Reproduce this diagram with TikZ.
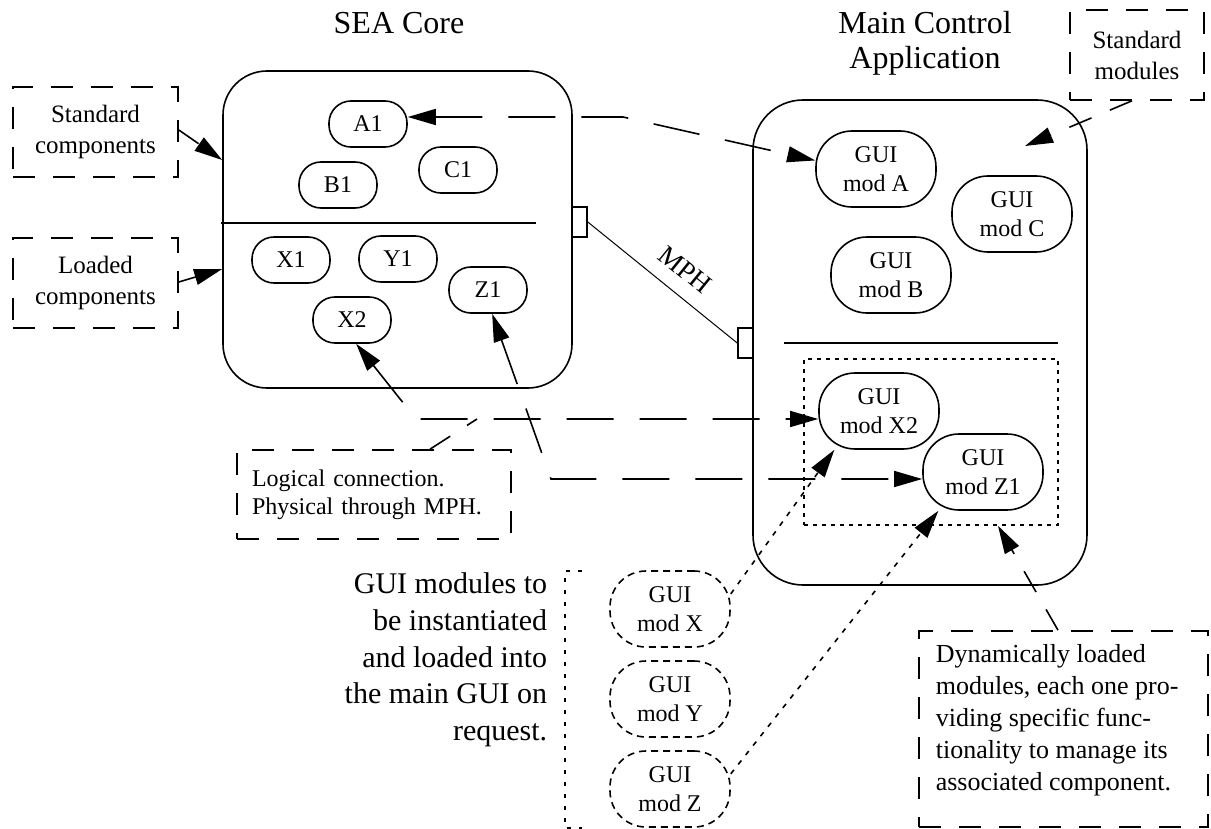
\documentclass[tikz,border=0pt]{standalone}
\usepackage{fontspec}
\setmainfont{Liberation Serif}
\usetikzlibrary{arrows.meta,positioning,calc}

\begin{document}
\begin{tikzpicture}[x=0.5pt,y=-0.5pt,
line width=0.8pt,
>={Triangle[length=14pt,width=8pt]},
bigbox/.style={draw,rounded corners=22pt},
comp/.style={draw,rounded corners=11pt,minimum width=39pt,minimum height=23pt,font=\fontsize{12}{14.5}\selectfont},
gui/.style={draw,rounded corners=18pt,minimum width=60pt,minimum height=38pt,align=center,font=\fontsize{12}{14.5}\selectfont},
newgui/.style={gui,dash pattern=on 3.5pt off 2.5pt},
note/.style={draw,dash pattern=on 11pt off 9pt,align=center,font=\fontsize{12.5}{15.5}\selectfont},
port/.style={draw,minimum width=7.5pt,minimum height=15pt,inner sep=0pt},
link/.style={dash pattern=on 23.5pt off 13pt},
pointer/.style={dash pattern=on 12pt off 10pt},
dotlink/.style={dash pattern=on 2.5pt off 3.5pt},
title/.style={align=center,font=\fontsize{16}{17.5}\selectfont}]
\useasboundingbox (0,0) rectangle (1211,829);

\node[title] (seatitle) at (399,23) {SEA Core};
\node[title] (mcatitle) at (925,43) {Main Control\\Application};

\node[bigbox,minimum width=174.5pt,minimum height=158.5pt] (sea) at (397.5,229.5) {};
\node[bigbox,rounded corners=25pt,minimum width=167pt,minimum height=242.5pt] (mca) at (920,342.5) {};
\node[port] (seaport) at (579.5,222) {};
\node[port] (mcaport) at (745.5,343) {};
\draw (221,223) -- (536,223);
\draw (784,343) -- (1058,343);

\node[comp] (a1) at (368,124) {A1};
\node[comp] (b1) at (338,185) {B1};
\node[comp] (c1) at (458,170) {C1};
\node[comp] (x1) at (291,260) {X1};
\node[comp] (y1) at (398,259) {Y1};
\node[comp] (z1) at (488,290) {Z1};
\node[comp] (x2) at (352,320) {X2};

\node[gui] (guia) at (876,169) {GUI\\mod A};
\node[gui] (guib) at (891,275) {GUI\\mod B};
\node[gui] (guic) at (1012,214) {GUI\\mod C};
\node[gui] (guix2) at (879,411) {GUI\\mod X2};
\node[gui] (guiz1) at (983,472) {GUI\\mod Z1};
\node[draw,dash pattern=on 2pt off 2.5pt,minimum width=127pt,minimum height=83pt] (dynset) at (931,442) {};

\node[newgui] (modx) at (670,609) {GUI\\mod X};
\node[newgui] (mody) at (670,699) {GUI\\mod Y};
\node[newgui] (modz) at (670,789) {GUI\\mod Z};
\draw[dash pattern=on 2pt off 4pt] (582,571) -- (565,571) -- (565,828) -- (582,828);
\node[anchor=north east,align=right,inner sep=0pt,font=\fontsize{15}{18.35}\selectfont] (loadtext) at (548,572) {GUI modules to\\be instantiated\\and loaded into\\the main GUI on\\request.};

\node[note,minimum width=82.5pt,minimum height=45pt] (stdcomp) at (95.5,132) {Standard\\components};
\node[note,minimum width=82.5pt,minimum height=45pt] (loadcomp) at (95.5,283) {Loaded\\components};
\node[note,minimum width=67pt,minimum height=45pt] (stdmod) at (1137,55) {Standard\\modules};
\node[note,align=left,text width=122pt,inner xsep=7.5pt,minimum height=44.5pt,font=\fontsize{12}{14}\selectfont] (logic) at (374,494.5) {Logical connection.\\Physical through MPH.};
\node[note,minimum width=144.5pt,minimum height=98pt] (dynnote) at (1063.5,729) {};
\node[anchor=north west,align=left,inner sep=0pt,font=\fontsize{13}{16}\selectfont] (dyntext) at (935,644) {Dynamically loaded\\modules, each one pro-\\viding specific func-\\tionality to manage its\\associated component.};

\coordinate (bend1) at (623,117);
\coordinate (bend2) at (416,419);
\coordinate (bend3) at (551,479);
\coordinate (logjoin) at (477,419);
\coordinate (stdtip) at (1025,146);

\draw[link,<->] (a1.east |- 0,117) -- (bend1) -- (guia.172);
\draw[link,<->] (x2.-80) -- (bend2) -- (guix2.west |- bend2);
\draw[link,<->] (z1.-80) -- (bend3) -- (guiz1.west |- bend3);
\draw[pointer] (430,0 |- logic.north) -- (logjoin);
\draw[pointer,->] (stdcomp.east |- 0,130) -- (sea.west |- 0,160);
\draw[pointer,->] (loadcomp.east |- 0,282) -- (sea.west |- 0,269);
\draw[pointer,->] (1132,0 |- stdmod.south) -- (stdtip);
\draw[pointer,->] (1058,0 |- dynnote.north) -- (998,0 |- dynset.south);
\draw[dotlink,->] (modx.14) -- (guix2.-139);
\draw[dotlink,->] (modz.14) -- (guiz1.-139);
\draw[line width=0.5pt] (seaport.east) -- node[sloped,above=4pt,pos=.55,font=\fontsize{13.5}{15}\selectfont] (mph) {MPH} (mcaport.west);
\end{tikzpicture}
\end{document}
